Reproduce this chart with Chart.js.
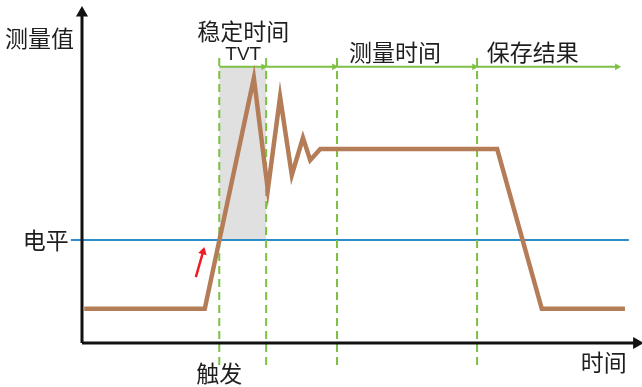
<!DOCTYPE html>
<html>
<head>
<meta charset="utf-8">
<script src="https://cdn.jsdelivr.net/npm/chart.js@4"></script>
<style>
  html, body { margin: 0; padding: 0; background: #fff; }
  #wrap { width: 642px; height: 387px; }
</style>
</head>
<body>
<div id="wrap"><canvas id="c"></canvas></div>
<script>
// ---- data (time 0..100, value 0..100) ----
const signalX = [0.4, 22.0, 30.8, 33.3, 35.5, 37.6, 39.6, 40.9, 42.7, 74.4, 82.4, 97.3];
const signalY = [10.1, 10.1, 78.4, 45.3, 72.8, 49.7, 60.7, 54.1, 57.4, 57.4, 10.1, 10.1];

const levelValue = 30.5;
const levelRange = [-2.0, 98.0];

const markerX = [24.6, 33.0, 45.7, 70.8];      // dashed verticals
const markerTop = 84.3;
const markerBottom = -6.5;

const phaseY = 81.7;                            // green arrow row
const phaseStart = [24.6, 33.0, 45.7, 70.8];
const phaseEnd = [32.5, 45.2, 70.3, 95.9];

const trigArrow = [[20.4, 19.5], [21.7, 27.0]];

const labels = [
  { text: "测量值", x: -7.6, y: 90.2 },
  { text: "稳定时间", x: 28.9, y: 92.3 },
  { text: "TVT", x: 28.9, y: 85.4, latin: true },
  { text: "测量时间", x: 56.1, y: 86.1 },
  { text: "保存结果", x: 80.8, y: 86.1 },
  { text: "电平", x: -6.5, y: 30.5 },
  { text: "触发", x: 24.6, y: -8.9 },
  { text: "时间", x: 93.5, y: -5.6 }
];

const GREEN = "#7cc143";
const BROWN = "#b47d58";
const BLUE = "#2a8dcc";
const BLACK = "#111111";

// ---- datasets ----
const datasets = [];

// shaded settling window
datasets.push({
  data: [{ x: markerX[0], y: phaseY }, { x: markerX[1], y: phaseY }],
  borderWidth: 0,
  pointRadius: 0,
  backgroundColor: "#e0e0e0",
  fill: { value: levelValue },
  order: 10
});

// level line
datasets.push({
  data: [{ x: levelRange[0], y: levelValue }, { x: levelRange[1], y: levelValue }],
  borderColor: BLUE,
  borderWidth: 2,
  pointRadius: 0,
  order: 5
});

// dashed markers
markerX.forEach(x => {
  datasets.push({
    data: [{ x: x, y: markerTop }, { x: x, y: markerBottom }],
    borderColor: GREEN,
    borderWidth: 2,
    borderDash: [8, 5],
    pointRadius: 0,
    order: 4
  });
});

// phase arrows
phaseStart.forEach((s, i) => {
  datasets.push({
    data: [{ x: s, y: phaseY }, { x: phaseEnd[i], y: phaseY }],
    borderColor: GREEN,
    backgroundColor: GREEN,
    borderWidth: 2,
    pointStyle: "triangle",
    pointRotation: 90,
    pointRadius: [0, 4],
    pointBorderWidth: 0,
    order: 3
  });
});

// signal
datasets.push({
  data: signalX.map((x, i) => ({ x: x, y: signalY[i] })),
  borderColor: BROWN,
  borderWidth: 4.5,
  pointRadius: 0,
  borderJoinStyle: "miter",
  order: 1
});

// trigger arrow
datasets.push({
  data: trigArrow.map(p => ({ x: p[0], y: p[1] })),
  borderColor: "#ee1c24",
  backgroundColor: "#ee1c24",
  borderWidth: 2.5,
  pointStyle: "triangle",
  pointRotation: 15,
  pointRadius: [0, 5],
  pointBorderWidth: 0,
  order: 2
});

// axes with arrowheads
datasets.push({
  data: [{ x: 0, y: 0 }, { x: 0, y: 97.6 }],
  borderColor: BLACK,
  backgroundColor: BLACK,
  borderWidth: 3,
  pointStyle: "triangle",
  pointRotation: 0,
  pointRadius: [0, 7],
  pointBorderWidth: 0,
  order: 0
});
datasets.push({
  data: [{ x: 0, y: 0 }, { x: 99.4, y: 0 }],
  borderColor: BLACK,
  backgroundColor: BLACK,
  borderWidth: 3,
  pointStyle: "triangle",
  pointRotation: 90,
  pointRadius: [0, 7],
  pointBorderWidth: 0,
  order: 0
});

// ---- text labels ----
const textPlugin = {
  id: "texts",
  afterDatasetsDraw(chart) {
    const ctx = chart.ctx;
    const xs = chart.scales.x, ys = chart.scales.y;
    ctx.save();
    ctx.fillStyle = "#1e1e1e";
    ctx.textAlign = "center";
    ctx.textBaseline = "middle";
    labels.forEach(l => {
      ctx.font = l.latin ? "19px 'Liberation Sans', Arial, sans-serif"
                         : "23px 'Noto Sans CJK SC', sans-serif";
      ctx.fillText(l.text, xs.getPixelForValue(l.x), ys.getPixelForValue(l.y));
    });
    ctx.restore();
  }
};

new Chart(document.getElementById("c"), {
  type: "line",
  data: { datasets },
  options: {
    responsive: true,
    maintainAspectRatio: false,
    animation: false,
    clip: false,
    layout: { autoPadding: false, padding: { left: 82, right: 2, top: 5, bottom: 44 } },
    datasets: { line: { clip: false, tension: 0 } },
    plugins: { legend: { display: false }, tooltip: { enabled: false } },
    scales: {
      x: { type: "linear", min: 0, max: 100, display: false },
      y: { type: "linear", min: 0, max: 100, display: false }
    }
  },
  plugins: [textPlugin]
});
</script>
</body>
</html>
